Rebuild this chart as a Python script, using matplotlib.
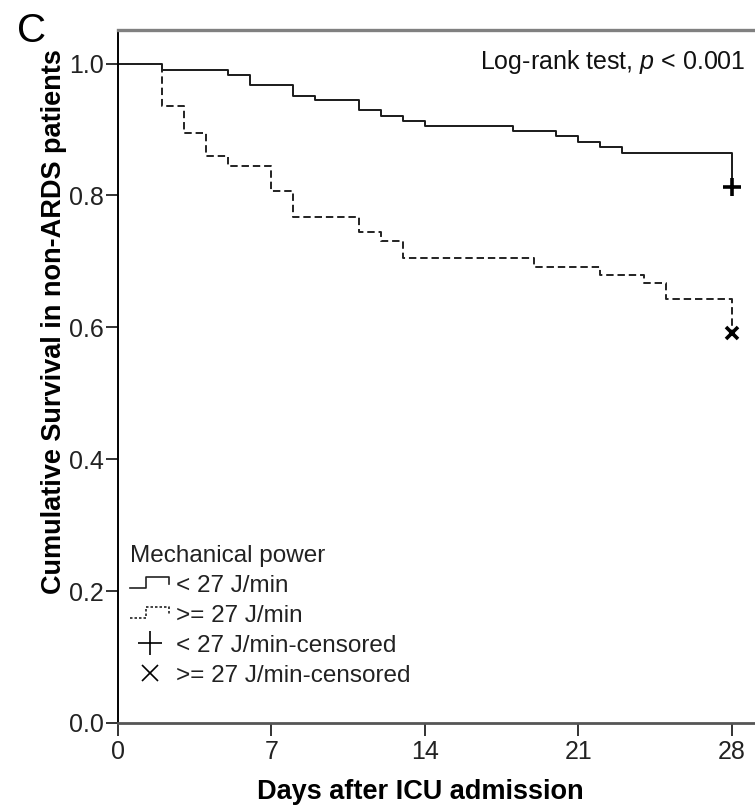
import matplotlib
matplotlib.use("Agg")
import matplotlib.pyplot as plt
from matplotlib.legend_handler import HandlerBase
from matplotlib.lines import Line2D

# Kaplan-Meier steps
days_low = [0, 2, 5, 6, 8, 9, 11, 12, 13, 14, 18, 20, 21, 22, 23, 28]
surv_low = [1.0, 0.990, 0.983, 0.968, 0.951, 0.944, 0.929, 0.921, 0.913,
            0.905, 0.898, 0.890, 0.881, 0.874, 0.865, 0.813]
days_high = [0, 2, 3, 4, 5, 7, 8, 11, 12, 13, 19, 22, 24, 25, 28]
surv_high = [1.0, 0.935, 0.895, 0.859, 0.845, 0.806, 0.768, 0.744, 0.731,
             0.705, 0.692, 0.679, 0.667, 0.643, 0.591]
cens_low = (28, 0.813)
cens_high = (28, 0.591)

xticks = [0, 7, 14, 21, 28]
yticks = [0.0, 0.2, 0.4, 0.6, 0.8, 1.0]
labels = ["< 27 J/min", ">= 27 J/min", "< 27 J/min-censored", ">= 27 J/min-censored"]

plt.rcParams['font.family'] = ['Liberation Sans', 'DejaVu Sans']
plt.rcParams['mathtext.fontset'] = 'custom'
plt.rcParams['mathtext.rm'] = 'Liberation Sans'
plt.rcParams['mathtext.it'] = 'Liberation Sans:italic'

W, H = 755, 810
fig = plt.figure(figsize=(W / 100, H / 100), dpi=100)
ax = fig.add_axes([118 / W, 1 - 723 / H, 1 - 118 / W, (723 - 30) / H])

ax.step(days_low, surv_low, where='post', color='#1a1a1a', lw=1.4)
ax.step(days_high, surv_high, where='post', color='#222222', lw=1.4,
        dashes=(3.8, 2))
ax.plot(*cens_low, marker='+', ms=13, mew=2.6, color='black', clip_on=False)
ax.plot(*cens_high, marker='x', ms=9, mew=2.6, color='black', clip_on=False)

ax.set_xlim(0, (W - 118) / 21.92)
ax.set_ylim(0, 1 + 33.5 / 659.5)
ax.set_xticks(xticks)
ax.set_xticklabels([str(t) for t in xticks])
ax.set_yticks(yticks)
ax.set_yticklabels(['%.1f' % t for t in yticks])
ax.tick_params(direction='out', length=9, width=1.3, labelsize=18,
               colors='#222222')
ax.tick_params(axis='x', pad=3)
ax.tick_params(axis='y', pad=1.5)

ax.spines['right'].set_visible(False)
ax.spines['top'].set_color('#808080')
ax.spines['top'].set_linewidth(2.4)
ax.spines['left'].set_color('black')
ax.spines['left'].set_linewidth(1.4)
ax.spines['bottom'].set_color('#555555')
ax.spines['bottom'].set_linewidth(2.0)


class StepHandler(HandlerBase):
    def __init__(self, dashed=False):
        super().__init__()
        self.dashed = dashed

    def create_artists(self, legend, orig_handle, xdescent, ydescent,
                       width, height, fontsize, trans):
        x0, w = -xdescent, width
        lo = -ydescent + 0.2 * height
        hi = -ydescent + 0.85 * height
        xs = [x0, x0 + 0.42 * w, x0 + 0.42 * w, x0 + w, x0 + w]
        ys = [lo, lo, hi, hi, hi - 0.4 * height]
        ln = Line2D(xs, ys, color='#222222', lw=1.2, transform=trans)
        if self.dashed:
            ln.set_dashes((1.5, 1.2))
        return [ln]


h1 = Line2D([], [])
h2 = Line2D([], [])
h3 = Line2D([], [], ls='none', marker='+', ms=17, mew=1.2, color='black')
h4 = Line2D([], [], ls='none', marker='x', ms=11, mew=1.2, color='black')
leg = ax.legend([h1, h2, h3, h4], labels, title='Mechanical power',
                loc='lower left', bbox_to_anchor=(0.019, 0.052),
                frameon=False, fontsize=17.5, title_fontsize=17.5,
                alignment='left', handlelength=1.6, handletextpad=0.3,
                labelspacing=0.33, borderpad=0, borderaxespad=0,
                handler_map={h1: StepHandler(), h2: StepHandler(True)})
leg.get_title().set_color('#222222')
for t in leg.get_texts():
    t.set_color('#222222')

fig.text(745 / W, 1 - 62 / H, r'Log-rank test, $p$ < 0.001', fontsize=18,
         ha='right', va='center', color='#111111')
fig.text(32 / W, 1 - 31 / H, 'C', fontsize=29, ha='center', va='center')
fig.text(54 / W, 1 - 322 / H, 'Cumulative Survival in non-ARDS patients',
         fontweight='bold', fontsize=19.5, rotation=90,
         ha='center', va='center')
fig.text(420 / W, 1 - 792 / H, 'Days after ICU admission',
         fontweight='bold', fontsize=19.5, ha='center', va='center')

fig.savefig('out.png', dpi=100)
